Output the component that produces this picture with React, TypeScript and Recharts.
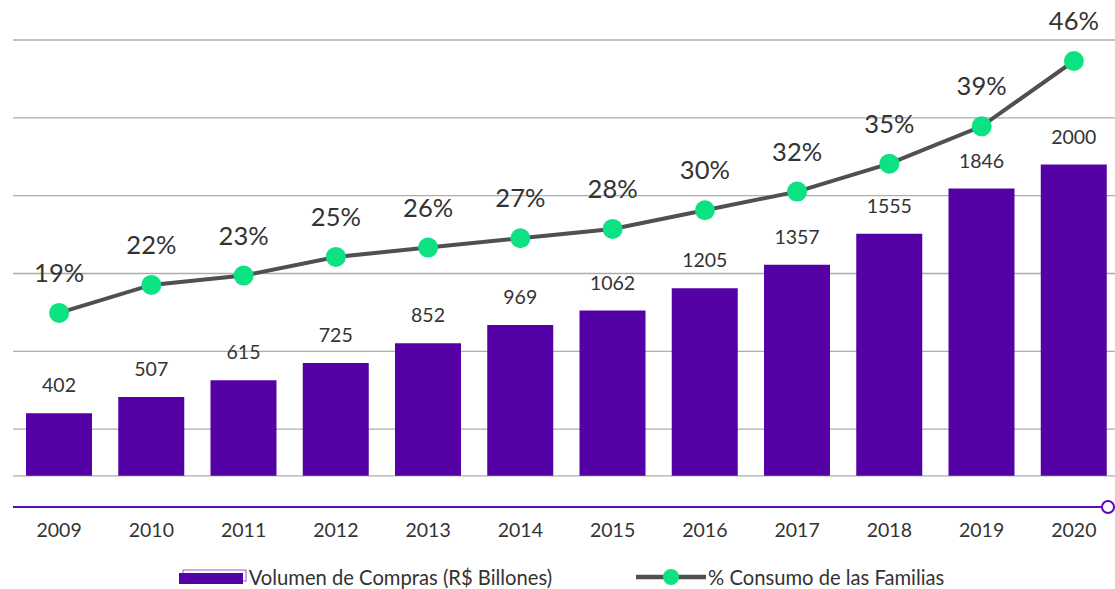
import { ComposedChart, Bar, Line, XAxis, YAxis, CartesianGrid, Legend, LabelList } from 'recharts'

const years = ['2009', '2010', '2011', '2012', '2013', '2014', '2015', '2016', '2017', '2018', '2019', '2020']
const volumen = [402, 507, 615, 725, 852, 969, 1062, 1205, 1357, 1555, 1846, 2000]
const consumo = [19, 22, 23, 25, 26, 27, 28, 30, 32, 35, 39, 46]
const gridTicks = [0, 300, 800, 1300, 1800, 2300, 2800]

const data = years.map((year, i) => ({
  year,
  volumen: volumen[i],
  consumo: consumo[i],
}))

const PURPLE = '#5402A5'
const AXIS_PURPLE = '#5A0DB0'
const GRAY_LINE = '#505050'
const GREEN = '#0DE283'
const TEXT = '#333333'
const FONT = 'Lato, "Open Sans", sans-serif'

const LegendContent = () => (
  <div
    style={{
      display: 'flex',
      justifyContent: 'center',
      alignItems: 'center',
      height: 24,
      fontFamily: FONT,
      fontSize: 20.2,
      color: TEXT,
      marginLeft: -10,
    }}
  >
    <div style={{ display: 'flex', alignItems: 'center' }}>
      <svg width={68} height={16}>
        <rect x={4} y={1} width={63} height={11} fill="none" stroke="#8A5CC8" strokeWidth={1} />
        <rect x={0} y={4} width={64} height={11} fill={PURPLE} />
      </svg>
      <span style={{ marginLeft: 2 }}>Volumen de Compras (R$ Billones)</span>
    </div>
    <div style={{ display: 'flex', alignItems: 'center', marginLeft: 84 }}>
      <svg width={70} height={20}>
        <line x1={0} y1={10} x2={70} y2={10} stroke={GRAY_LINE} strokeWidth={4.5} />
        <circle cx={35} cy={10} r={8} fill={GREEN} />
      </svg>
      <span style={{ marginLeft: 2 }}>% Consumo de las Familias</span>
    </div>
  </div>
)

export default function App() {
  return (
    <div style={{ position: 'absolute', left: 0, top: 0, width: 1115, height: 589, overflow: 'hidden', background: '#fff' }}>
      <ComposedChart
        width={1120}
        height={589}
        data={data}
        margin={{ top: 40, right: 0, left: 13, bottom: 0 }}
        style={{ fontFamily: FONT }}
      >
        <CartesianGrid vertical={false} yAxisId="bar" stroke="#ADADAD" strokeWidth={1.3} />
        <XAxis
          dataKey="year"
          height={58}
          tickLine={false}
          tickMargin={10}
          axisLine={{ stroke: AXIS_PURPLE, strokeWidth: 2 }}
          tick={{ fill: TEXT, fontSize: 19.5, fontFamily: FONT }}
        />
        <YAxis yAxisId="bar" hide domain={[-200, 2800]} ticks={gridTicks} />
        <YAxis yAxisId="pct" hide orientation="right" domain={[-1.8, 48.25]} />
        <Legend verticalAlign="bottom" height={24} content={LegendContent} />
        <Bar yAxisId="bar" dataKey="volumen" fill={PURPLE} barSize={66} isAnimationActive={false}>
          <LabelList dataKey="volumen" position="top" offset={21} fill={TEXT} fontSize={19.5} fontFamily={FONT} />
        </Bar>
        <Line
          yAxisId="pct"
          type="linear"
          dataKey="consumo"
          stroke={GRAY_LINE}
          strokeWidth={4}
          dot={{ r: 10, fill: GREEN, stroke: 'none' }}
          activeDot={false}
          isAnimationActive={false}
        >
          <LabelList
            dataKey="consumo"
            position="top"
            offset={31}
            fill={TEXT}
            fontSize={25.5}
            fontFamily={FONT}
            formatter={(v: number) => `${v}%`}
          />
        </Line>
      </ComposedChart>
      <div
        style={{
          position: 'absolute',
          left: 1101,
          top: 500,
          width: 10,
          height: 10,
          border: `2px solid ${AXIS_PURPLE}`,
          borderRadius: '50%',
          background: '#fff',
        }}
      />
    </div>
  )
}
